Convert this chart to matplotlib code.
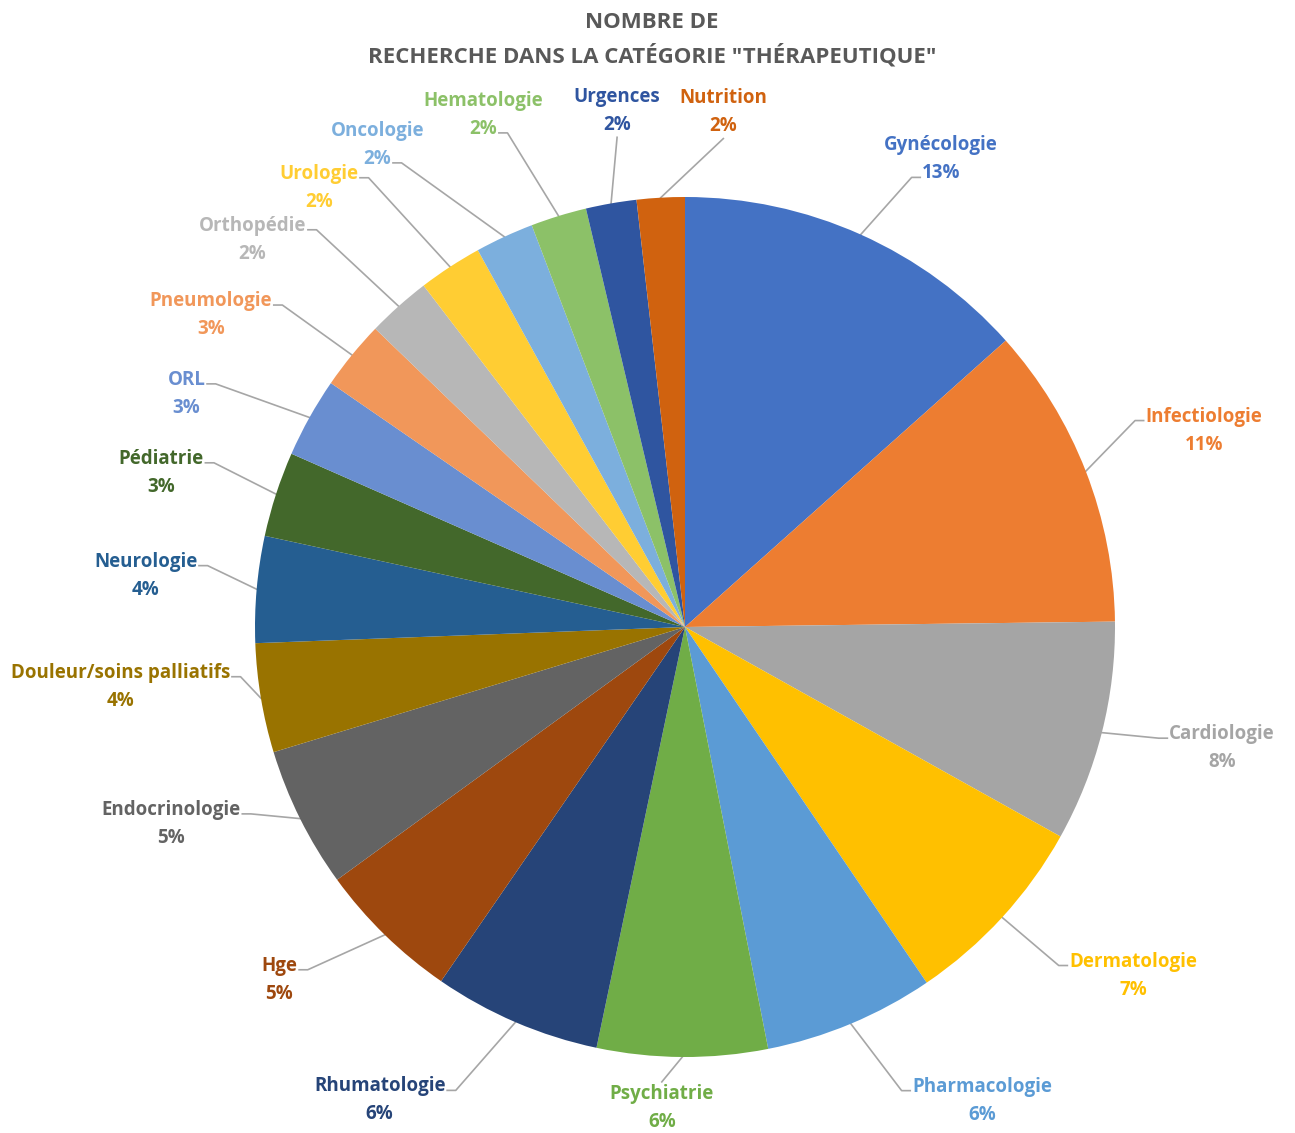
import numpy as np
import matplotlib
matplotlib.use("Agg")
import matplotlib.pyplot as plt

# ---------------- data ----------------
categories = ["Gynécologie", "Infectiologie", "Cardiologie", "Dermatologie", "Pharmacologie",
              "Psychiatrie", "Rhumatologie", "Hge", "Endocrinologie", "Douleur/soins palliatifs",
              "Neurologie", "Pédiatrie", "ORL", "Pneumologie", "Orthopédie", "Urologie",
              "Oncologie", "Hematologie", "Urgences", "Nutrition"]
counts = [134, 114, 83, 74, 64, 64, 63, 54, 53, 41, 40, 32, 30, 26, 24, 24, 22, 21, 19, 18]
title_lines = ["NOMBRE DE", "RECHERCHE DANS LA CATÉGORIE \"THÉRAPEUTIQUE\""]

# ---------------- style / layout ----------------
colors = ["#4472C4", "#ED7D31", "#A5A5A5", "#FFC000", "#5B9BD5", "#70AD47",
          "#264478", "#9E480E", "#636363", "#997300", "#255E91", "#43682B",
          "#698ED0", "#F1975A", "#B7B7B7", "#FFCD33", "#7CAFDD", "#8CC168",
          "#2F55A0", "#D0620F"]
label_angle_offset = [-4.6, -0.5, 1.5, 4.6, 9.4, -2.4, -9.6, -4.7, -5.5, -3.5,
                      -0.4, 1.6, 4.1, 5.9, 6.4, 6.7, 7.7, 4.4, -2.4, -7.5]
label_radius = [1.24, 1.29, 1.28, 1.32, 1.30, 1.12, 1.31, 1.25, 1.28, 1.32,
                1.26, 1.27, 1.28, 1.32, 1.35, 1.33, 1.33, 1.28, 1.21, 1.20]

W, H = 1295, 1133
R_PX = 430.0
CX, CY = 685.0, 627.0
fig = plt.figure(figsize=(W / 100, H / 100), dpi=100)
ax = fig.add_axes([0, 0, 1, 1])

font = "Open Sans"
wedges, _ = ax.pie(counts, colors=colors, startangle=90, counterclock=False,
                   radius=1.0, center=(0, 0), frame=True,
                   wedgeprops=dict(linewidth=0))
ax.set_xlim(-CX / R_PX, (W - CX) / R_PX)
ax.set_ylim(-(H - CY) / R_PX, CY / R_PX)
ax.set_aspect("auto")
ax.axis("off")

total = float(sum(counts))
dy = 14 / R_PX
texts = []
for i, (w, name) in enumerate(zip(wedges, categories)):
    mid = 0.5 * (w.theta1 + w.theta2)
    la = np.deg2rad(mid + label_angle_offset[i])
    lx, ly = label_radius[i] * np.cos(la), label_radius[i] * np.sin(la)
    pct = "{:.0f}%".format(100 * counts[i] / total)
    t1 = ax.text(lx, ly + dy, name, ha="center", va="center", color=colors[i],
                 fontsize=13.5, fontweight="bold", family=font)
    t2 = ax.text(lx, ly - dy, pct, ha="center", va="center", color=colors[i],
                 fontsize=13.5, fontweight="bold", family=font)
    texts.append((mid, lx, ly, t1, t2))

fig.canvas.draw()
renderer = fig.canvas.get_renderer()
inv = ax.transData.inverted()
lc = "#A6A6A6"
for mid, lx, ly, t1, t2 in texts:
    m = np.deg2rad(mid)
    ex, ey = np.cos(m), np.sin(m)
    t = t2 if ly > 1.05 else t1
    bb = t.get_window_extent(renderer).transformed(inv)
    if lx < -0.25:
        ax_, ay_ = bb.x1 + 0.004, bb.y0 + 0.3 * bb.height
        px = [ax_, ax_ + 0.02, ex]
        py = [ay_, ay_, ey]
    elif lx > 0.25:
        ax_, ay_ = bb.x0 - 0.004, bb.y0 + 0.3 * bb.height
        px = [ax_, ax_ - 0.02, ex]
        py = [ay_, ay_, ey]
    else:
        if ly > 0:
            bb2 = t2.get_window_extent(renderer).transformed(inv)
            px = [lx, ex]
            py = [bb2.y0 - 0.005, ey]
        else:
            bb1 = t1.get_window_extent(renderer).transformed(inv)
            px = [lx, ex]
            py = [bb1.y1 + 0.005, ey]
    ax.plot(px, py, color=lc, lw=1.2, zorder=0.5)

fig.text(652 / W, 1 - 22 / H, title_lines[0], ha="center", va="center",
         fontsize=16, fontweight="bold", color="#595959", family=font)
fig.text(652 / W, 1 - 56 / H, title_lines[1], ha="center", va="center",
         fontsize=16, fontweight="bold", color="#595959", family=font)

fig.savefig("out.png", dpi=100, facecolor="white")
